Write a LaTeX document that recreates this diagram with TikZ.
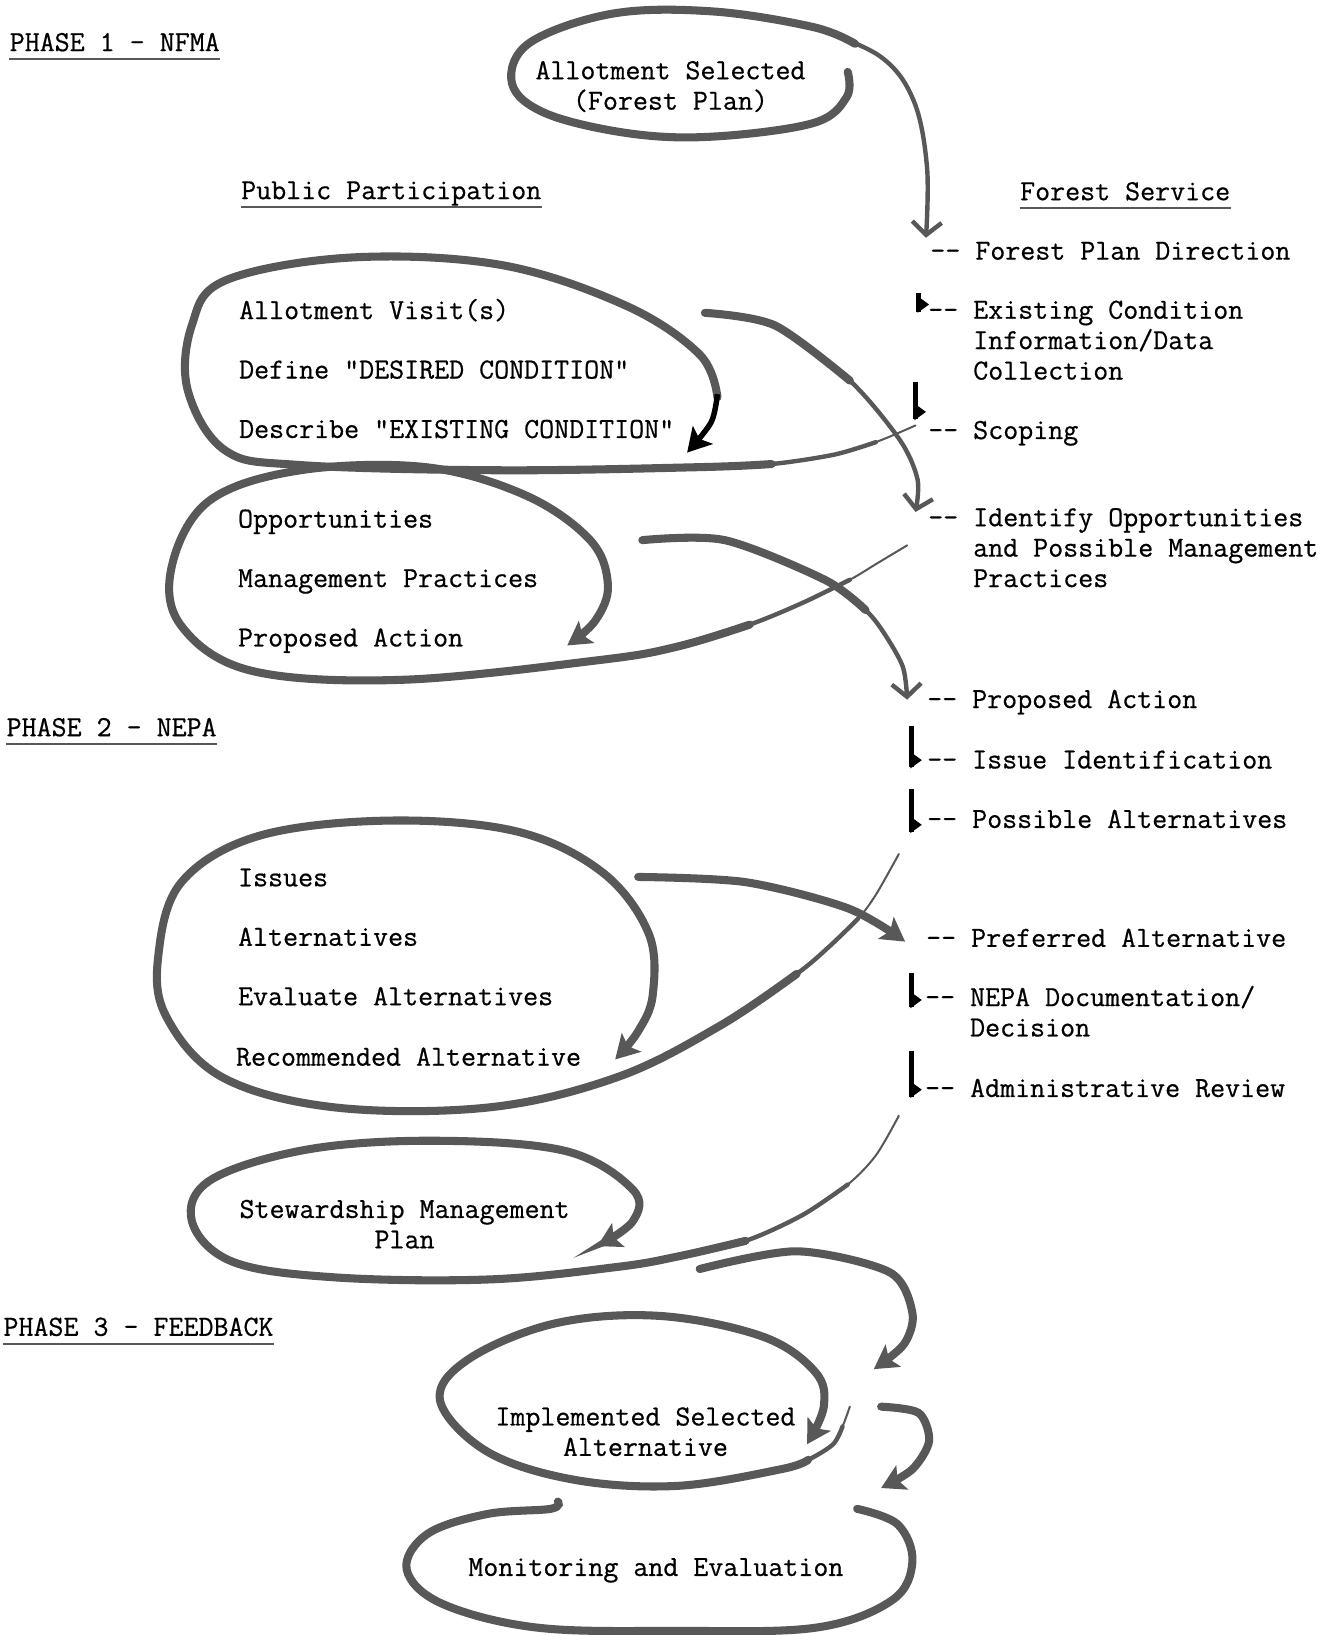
\documentclass[tikz,border=0pt]{standalone}
\usepackage{fontspec}
\usetikzlibrary{arrows.meta}
\definecolor{pen}{RGB}{88,88,88}
\newfontfamily\typewriter{Latin Modern Mono}[FakeBold=0.6]
\newcommand{\typed}{\fontsize{15.9}{16.6}\selectfont\typewriter}
\newcommand{\dd}{\llap{-{}- }}

\begin{document}
\begin{tikzpicture}[x=0.02cm,y=-0.02cm,
	every node/.style={font=\typed,inner sep=0pt,anchor=base west},
	lead/.style={draw=pen,line width=1.1pt,line cap=round},
	pendrift/.style={draw=pen,line width=2.4pt,line cap=round},
	penloop/.style={draw=pen,line width=4.4pt,line cap=round},
	chunky/.style={-{Stealth[length=13pt,width=15pt,inset=3pt,line width=0pt]}},
	vee/.style={-{Straight Barb[length=7pt,width=16pt]}},
	fshook/.style={draw=black,line width=2.4pt},
	uline/.style={draw=pen,line width=1pt}]
	\useasboundingbox (0,0) rectangle (1267,1568);
	% headings
	\node (ph1) at (9,49) {PHASE 1 - NFMA};
	\node (pub) at (231,191) {Public Participation};
	\node (fs) at (978,192) {Forest Service};
	\node (ph2) at (6,706) {PHASE 2 - NEPA};
	\node (ph3) at (3,1281) {PHASE 3 - FEEDBACK};
	\foreach \h in {ph1,pub,fs,ph2,ph3}
	\draw[uline] ([yshift=-4.3pt]\h.base west) -- ([yshift=-4.3pt]\h.base east);
	% forest service column (base = last line)
	\node (fpd) at (935,249) {\dd Forest Plan Direction};
	\node[align=left] (ecd) at (933,364) {\dd Existing Condition\\Information/Data\\Collection};
	\node (scp) at (933,421) {\dd Scoping};
	\node[align=left] (iop) at (933,563) {\dd Identify Opportunities\\and Possible Management\\Practices};
	\node (fpa) at (932,679) {\dd Proposed Action};
	\node (iid) at (932,737) {\dd Issue Identification};
	\node (pal) at (932,794) {\dd Possible Alternatives};
	\node (pre) at (931,908) {\dd Preferred Alternative};
	\node[align=left] (nep) at (930,994) {\dd NEPA Documentation/\\Decision};
	\node (adm) at (930,1052) {\dd Administrative Review};
	% public participation column
	\node[anchor=center,align=center] (sel) at (643,83) {Allotment Selected\\(Forest Plan)};
	\node (vis) at (229,306) {Allotment Visit(s)};
	\node (des) at (229,363) {Define "DESIRED CONDITION"};
	\node (exi) at (229,420) {Describe "EXISTING CONDITION"};
	\node (opp) at (228,506) {Opportunities};
	\node (mgp) at (228,563) {Management Practices};
	\node (ppa) at (228,620) {Proposed Action};
	\node (iss) at (228,850) {Issues};
	\node (alt) at (228,907) {Alternatives};
	\node (eva) at (228,964) {Evaluate Alternatives};
	\node (rec) at (226,1022) {Recommended Alternative};
	\node[anchor=center,align=center] (smp) at (388,1174) {Stewardship Management\\Plan};
	\node[anchor=center,align=center] (isa) at (619,1373) {Implemented Selected\\Alternative};
	\node[anchor=center] (mon) at (629,1506) {Monitoring and Evaluation};
	% hooks between forest service steps
	\foreach \x/\a/\b in {881/281/299, 878/366/402, 874/696/736, 874/757/798, 874/933/966, 874/1008/1052}{
		\draw[fshook] (\x,\a) -- (\x,\b);
		\fill (\x-1,\b-15) -- (\x+10,\b-7) -- (\x-1,\b+1) -- cycle;
	}
	% allotment selected loop
	\draw[penloop] plot[smooth,tension=.6] coordinates {(813,69) (812,93) (780,118) (684,131) (604,128) (524,109) (491,80) (508,41) (588,13) (684,11) (780,26) (820,42)};
	\draw[pendrift,vee] plot[smooth,tension=.6] coordinates {(780,26) (844,54) (876,96) (889,160) (888,228)};
	% loop 1
	\draw[lead] plot[smooth] coordinates {(878,408) (840,424) (800,436)};
	\draw[pendrift] plot[smooth] coordinates {(840,424) (800,436) (740,445) (671,448)};
	\draw[penloop] plot[smooth,tension=.6] coordinates {(740,445) (671,448) (480,451) (288,446) (216,432) (180,374) (184,312) (216,269) (336,247) (480,254) (600,293) (671,340) (688,381)};
	\draw[black,line width=3pt,chunky] plot[smooth] coordinates {(688,378) (682,405) (659,434)};
	\draw[penloop] plot[smooth] coordinates {(676,300) (743,312) (815,365)};
	\draw[pendrift,vee] plot[smooth] coordinates {(743,312) (815,365) (863,422) (880,460) (878,491)};
	% loop 2
	\draw[lead] plot[smooth] coordinates {(870,523) (840,541) (815,556) (770,578)};
	\draw[pendrift] plot[smooth] coordinates {(815,556) (770,578) (719,599) (650,620)};
	\draw[penloop,chunky] plot[smooth,tension=.6] coordinates {(719,599) (650,620) (575,633) (384,652) (240,643) (173,599) (165,542) (201,480) (288,451) (408,448) (504,475) (566,518) (583,561) (571,595) (544,619)};
	\draw[penloop] plot[smooth] coordinates {(616,518) (695,518) (791,556) (830,585)};
	\draw[pendrift,vee] plot[smooth] coordinates {(791,556) (830,585) (849,609) (866,640) (870,671)};
	% loop 3
	\draw[lead] plot[smooth] coordinates {(862,819) (840,858) (823,881) (795,908)};
	\draw[pendrift] plot[smooth] coordinates {(823,881) (795,908) (764,934) (690,984)};
	\draw[penloop,chunky] plot[smooth,tension=.6] coordinates {(764,934) (690,984) (592,1033) (469,1062) (321,1062) (213,1033) (159,974) (152,915) (174,846) (247,802) (370,787) (494,797) (577,836) (622,895) (626,954) (612,989) (590,1016)};
	\draw[penloop,chunky] plot[smooth] coordinates {(612,841) (715,846) (813,871) (868,903)};
	% loop 4
	\draw[lead] plot[smooth] coordinates {(862,1070) (840,1108) (813,1136) (770,1165)};
	\draw[pendrift] plot[smooth] coordinates {(813,1136) (770,1165) (715,1190) (650,1205)};
	\draw[penloop,chunky] plot[smooth,tension=.6] coordinates {(715,1190) (650,1205) (592,1215) (469,1227) (321,1225) (223,1210) (184,1171) (203,1131) (297,1102) (420,1094) (543,1104) (607,1141) (607,1171) (573,1195)};
	\draw[penloop,chunky] plot[smooth] coordinates {(671,1217) (764,1200) (853,1220) (875,1259) (867,1289) (838,1313)};
	% loop 5
	\draw[lead] plot[smooth] coordinates {(815,1349) (808,1368) (799,1385)};
	\draw[pendrift] plot[smooth] coordinates {(808,1368) (799,1385) (775,1400) (749,1409)};
	\draw[penloop,chunky] plot[smooth,tension=.6] coordinates {(775,1400) (749,1409) (649,1425) (550,1419) (467,1392) (422,1343) (450,1303) (533,1269) (633,1262) (732,1282) (782,1316) (790,1349) (774,1385)};
	\draw[penloop,chunky] plot[smooth] coordinates {(845,1349) (881,1355) (891,1382) (875,1409) (845,1427)};
	% loop 6
	\draw[penloop] plot[smooth,tension=.6] coordinates {(822,1447) (861,1462) (875,1498) (855,1535) (782,1561) (650,1564) (516,1561) (424,1538) (390,1505) (410,1471) (467,1452) (528,1447) (535,1440)};
\end{tikzpicture}
\end{document}
